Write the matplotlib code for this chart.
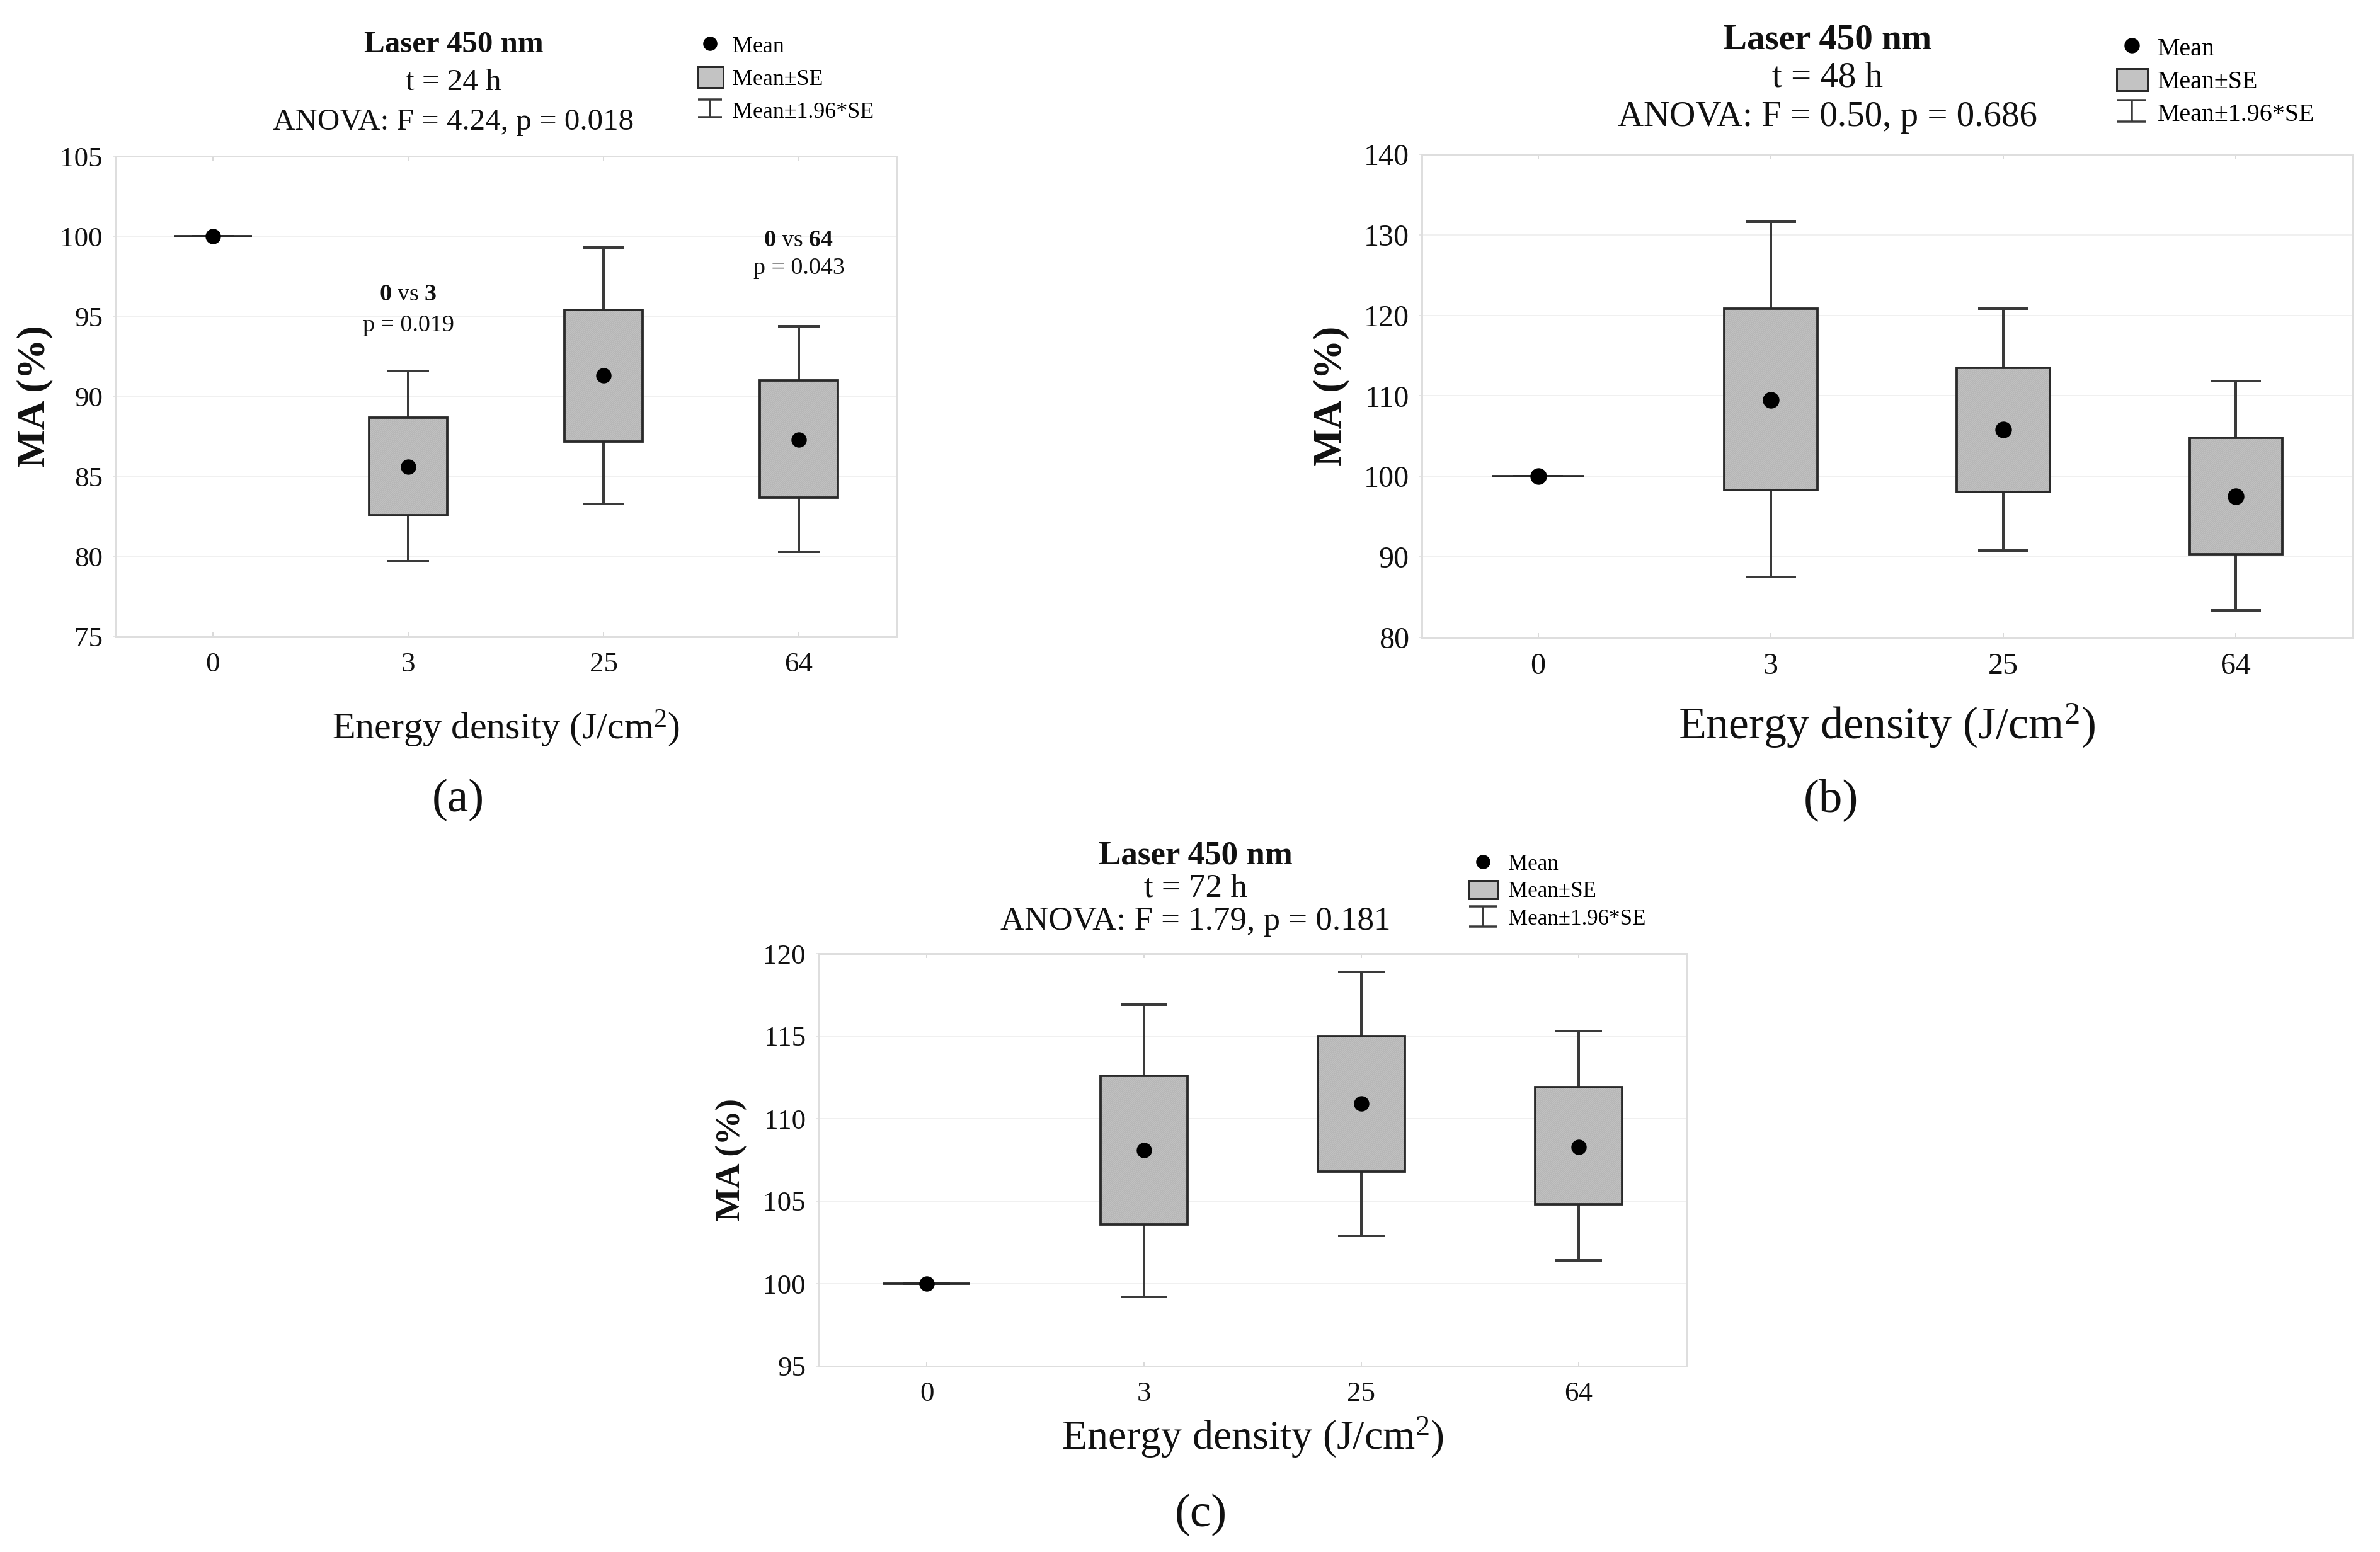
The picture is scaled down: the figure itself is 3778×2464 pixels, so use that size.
import matplotlib
matplotlib.use('Agg')
import matplotlib.pyplot as plt
from matplotlib.lines import Line2D
from matplotlib.patches import Patch
from matplotlib.path import Path

plt.rcParams['font.family'] = ['Liberation Serif', 'DejaVu Serif']
plt.rcParams['mathtext.fontset'] = 'custom'
plt.rcParams['mathtext.rm'] = 'Liberation Serif'
plt.rcParams['mathtext.bf'] = 'Liberation Serif:bold'
plt.rcParams['mathtext.it'] = 'Liberation Serif:italic'

# ---------------- data ----------------
categories = ['0', '3', '25', '64']

# (a) t = 24 h
mean_24 = [100.0, 85.6, 91.3, 87.3]
se_low_24 = [100.0, 82.6, 87.2, 83.7]
se_high_24 = [100.0, 88.7, 95.4, 91.0]
ci_low_24 = [100.0, 79.7, 83.3, 80.3]
ci_high_24 = [100.0, 91.6, 99.3, 94.4]

# (b) t = 48 h
mean_48 = [100.0, 109.5, 105.8, 97.5]
se_low_48 = [100.0, 98.3, 98.1, 90.3]
se_high_48 = [100.0, 120.8, 113.5, 104.8]
ci_low_48 = [100.0, 87.5, 90.8, 83.4]
ci_high_48 = [100.0, 131.6, 120.8, 111.8]

# (c) t = 72 h
mean_72 = [100.0, 108.1, 110.9, 108.3]
se_low_72 = [100.0, 103.6, 106.8, 104.8]
se_high_72 = [100.0, 112.6, 115.0, 111.9]
ci_low_72 = [100.0, 99.2, 102.9, 101.4]
ci_high_72 = [100.0, 116.9, 118.9, 115.3]

times = ['t = 24 h', 't = 48 h', 't = 72 h']
anova = ['ANOVA: F = 4.24, p = 0.018', 'ANOVA: F = 0.50, p = 0.686',
         'ANOVA: F = 1.79, p = 0.181']
panel_letters = ['(a)', '(b)', '(c)']
legend_labels = ['Mean', 'Mean±SE', 'Mean±1.96*SE']

# ---------------- layout ----------------
W, H = 3778, 2464
DPI = 100
PT = 72.0 / DPI  # px -> pt

BOX_FACE = '#c3c3c3'
HATCH_COL = '#b6b6b6'
BOX_EDGE = '#2a2a2a'
WHISK = '#3a3a3a'
SPINE = '#dedede'
GRID = '#f0f0f0'

fig = plt.figure(figsize=(W / DPI, H / DPI), dpi=DPI)
fig.patch.set_facecolor('white')


def fx(x):
    return x / W


def fy(y):
    return 1 - y / H


ibar = Path([(-1, -0.72), (1, -0.72), (0, -0.72), (0, 0.72), (-1, 0.72), (1, 0.72)],
            [Path.MOVETO, Path.LINETO, Path.MOVETO, Path.LINETO, Path.MOVETO, Path.LINETO])

panels = [
    dict(rect=(183, 248, 1423, 1011), data=(mean_24, se_low_24, se_high_24, ci_low_24, ci_high_24),
         ylim=(75, 105), yticks=[75, 80, 85, 90, 95, 100, 105],
         title_x=720, title_y=(83, 143, 206), title_fs=49, tick_fs=45,
         ylab_fs=64, ylab_x=-0.103, xlab_fs=60, xlab_y=-0.191,
         leg=dict(cx=1127, y0=73, step=52, fs=36, bw=41, bh=37, tx=1163),
         letter=(727, 1270), ms=23),
    dict(rect=(2257, 245, 3734, 1012), data=(mean_48, se_low_48, se_high_48, ci_low_48, ci_high_48),
         ylim=(80, 140), yticks=[80, 90, 100, 110, 120, 130, 140],
         title_x=2901, title_y=(78, 138, 200), title_fs=57, tick_fs=48,
         ylab_fs=63, ylab_x=-0.0975, xlab_fs=72, xlab_y=-0.183,
         leg=dict(cx=3384, y0=77, step=52, fs=40, bw=49, bh=39, tx=3425),
         letter=(2906, 1270), ms=25),
    dict(rect=(1299, 1514, 2678, 2169), data=(mean_72, se_low_72, se_high_72, ci_low_72, ci_high_72),
         ylim=(95, 120), yticks=[95, 100, 105, 110, 115, 120],
         title_x=1898, title_y=(1372, 1424, 1476), title_fs=53, tick_fs=45,
         ylab_fs=55, ylab_x=-0.100, xlab_fs=66, xlab_y=-0.171,
         leg=dict(cx=2354, y0=1372, step=44, fs=35, bw=47, bh=32, tx=2394),
         letter=(1906, 2405), ms=23),
]

BOX_W = 0.4
CAP_W = 0.215

for i, p in enumerate(panels):
    l, t, r, b = p['rect']
    ax = fig.add_axes([fx(l), fy(b), (r - l) / W, (b - t) / H])
    means, sel, seh, cil, cih = p['data']
    xs = list(range(len(categories)))

    # whiskers (behind boxes)
    ax.vlines(xs, cil, cih, color=WHISK, lw=4 * PT, zorder=2)
    ax.hlines(cil, [x - CAP_W / 2 for x in xs], [x + CAP_W / 2 for x in xs],
              color=WHISK, lw=4 * PT, zorder=2)
    ax.hlines(cih, [x - CAP_W / 2 for x in xs], [x + CAP_W / 2 for x in xs],
              color=WHISK, lw=4 * PT, zorder=2)
    heights = [h - lo for h, lo in zip(seh, sel)]
    ax.bar(xs, heights, bottom=sel, width=BOX_W, facecolor=BOX_FACE,
           edgecolor=HATCH_COL, hatch='//////////', lw=0, zorder=3)
    ax.bar(xs, heights, bottom=sel, width=BOX_W, facecolor='none',
           edgecolor=BOX_EDGE, lw=3.8 * PT, zorder=4)
    ax.plot(xs, means, 'o', color='black', ms=p['ms'] * PT, zorder=5)

    ax.set_xlim(-0.5, len(categories) - 0.5)
    ax.set_ylim(*p['ylim'])
    ax.set_xticks(xs)
    ax.set_xticklabels(categories)
    ax.set_yticks(p['yticks'])
    ax.tick_params(axis='x', direction='in', top=True, length=7 * PT, width=1.5 * PT,
                   color='#cfcfcf', labelsize=p['tick_fs'] * PT, pad=24 * PT,
                   labelcolor='#111111')
    ax.tick_params(axis='y', length=4 * PT, width=1.5 * PT, color='#dddddd',
                   labelsize=p['tick_fs'] * PT, pad=16 * PT, labelcolor='#111111')
    ax.yaxis.grid(True, color=GRID, lw=2 * PT)
    ax.set_axisbelow(True)
    for s in ax.spines.values():
        s.set_color(SPINE)
        s.set_linewidth(3 * PT)

    ax.set_ylabel('MA (%)', fontsize=p['ylab_fs'] * PT, fontweight='bold', color='#111111')
    ax.yaxis.set_label_coords(p['ylab_x'], 0.5)
    ax.yaxis.label.set_va('center')
    ax.set_xlabel(r'Energy density (J/cm$^2$)', fontsize=p['xlab_fs'] * PT, color='#111111')
    ax.xaxis.set_label_coords(0.5, p['xlab_y'])
    ax.xaxis.label.set_va('center')

    # titles
    ty = p['title_y']
    fig.text(fx(p['title_x']), fy(ty[0]), 'Laser 450 nm', ha='center', va='baseline',
             fontsize=p['title_fs'] * PT, fontweight='bold', color='#111111')
    fig.text(fx(p['title_x']), fy(ty[1]), times[i], ha='center', va='baseline',
             fontsize=p['title_fs'] * PT, color='#111111')
    fig.text(fx(p['title_x']), fy(ty[2]), anova[i], ha='center', va='baseline',
             fontsize=p['title_fs'] * PT, color='#111111')

    # legend
    lg = p['leg']
    fs = lg['fs']
    hl = lg['bw'] / fs
    htp = (lg['tx'] - lg['cx'] - lg['bw'] / 2) / fs
    row_h = max(1.01 * fs, lg['bh'])
    ls = max(0.0, (lg['step'] - row_h) / fs)
    handles = [
        Line2D([], [], marker='o', ls='none', color='black', ms=p['ms'] * 0.92 * PT),
        Patch(facecolor=BOX_FACE, edgecolor=BOX_EDGE, lw=3 * PT),
        Line2D([], [], marker=ibar, ls='none', markerfacecolor='none',
               markeredgecolor=WHISK, markeredgewidth=3.5 * PT, ms=lg['bw'] * 0.95 * PT),
    ]
    anchor_x = lg['cx'] - lg['bw'] / 2
    anchor_y = lg['y0'] - row_h / 2
    fig.legend(handles, legend_labels, loc='upper left',
               bbox_to_anchor=(fx(anchor_x), fy(anchor_y)), bbox_transform=fig.transFigure,
               frameon=False, fontsize=fs * PT, borderpad=0, borderaxespad=0,
               handlelength=hl, handleheight=lg['bh'] / fs, handletextpad=htp,
               labelspacing=ls, numpoints=1)

    # panel letter
    fig.text(fx(p['letter'][0]), fy(p['letter'][1]), panel_letters[i], ha='center',
             va='center', fontsize=75 * PT, color='#111111')

    if i == 0:
        afs = 38 * PT
        ax.text(1, 96.35, r'$\mathbf{0}$ vs $\mathbf{3}$', ha='center', va='center',
                fontsize=afs, color='#111111')
        ax.text(1, 94.42, 'p = 0.019', ha='center', va='center', fontsize=afs, color='#111111')
        ax.text(3, 99.73, r'$\mathbf{0}$ vs $\mathbf{64}$', ha='center', va='center',
                fontsize=afs, color='#111111')
        ax.text(3, 98.0, 'p = 0.043', ha='center', va='center', fontsize=afs, color='#111111')

fig.savefig('out.png', dpi=DPI, facecolor='white')
